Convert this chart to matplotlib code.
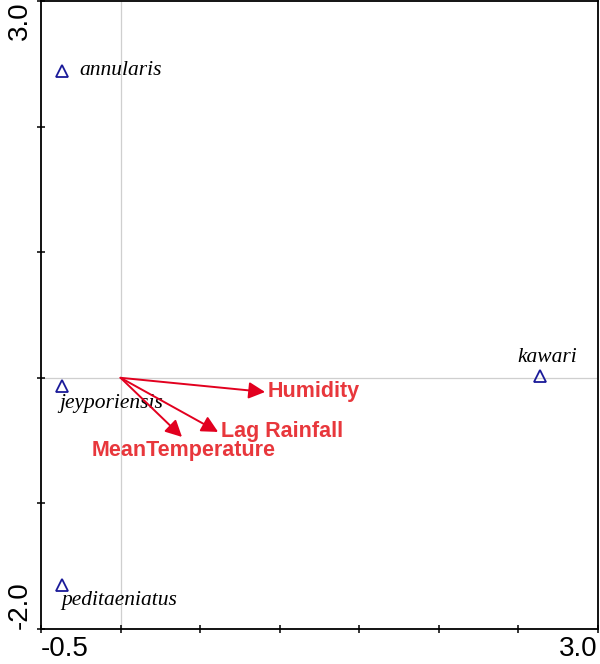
import matplotlib
matplotlib.use("Agg")
import matplotlib.pyplot as plt
import numpy as np

# ---- data ----
species = ["annularis", "jeyporiensis", "peditaeniatus", "kawari"]
species_x = [-0.37, -0.37, -0.37, 2.636]
species_y = [2.444, -0.069, -1.646, 0.014]

env_vars = ["Humidity", "Lag Rainfall", "MeanTemperature"]
env_x = [0.908, 0.613, 0.386]
env_y = [-0.113, -0.431, -0.471]

x_ticks = [-0.5, 0.0, 0.5, 1.0, 1.5, 2.0, 2.5, 3.0]
x_ticklabels = ["-0.5", "", "", "", "", "", "", "3.0"]
y_ticks = [-2.0, -1.0, 0.0, 1.0, 2.0, 3.0]
y_ticklabels = ["-2.0", "", "", "", "", "3.0"]

# ---- styling (label placement offsets, in points) ----
species_offsets = {
    "annularis": ((13, 0), "left", "center"),
    "jeyporiensis": ((-2, -12), "left", "center"),
    "peditaeniatus": ((0, -11.5), "left", "center"),
    "kawari": ((5, 13), "center", "center"),
}
env_offsets = {
    "Humidity": ((2, 0), "left", "center"),
    "Lag Rainfall": ((2, 0), "left", "center"),
    "MeanTemperature": ((1, -9.5), "center", "center"),
}
arrow_color = "#e2001f"
env_text_color = "#e8373c"
species_color = "#1a1a99"

fig = plt.figure(figsize=(6, 6.64), dpi=100)
ax = fig.add_axes([41 / 600, 1 - 629 / 664, 557 / 600, 628 / 664])
ax.set_xlim(-0.5, 3.0)
ax.set_ylim(-2.0, 3.0)

# zero reference lines
ax.axvline(0, color="#cfcfcf", lw=0.9, zorder=0)
ax.axhline(0, color="#cfcfcf", lw=0.9, zorder=0)

# species points
ax.plot(species_x, species_y, linestyle="none", marker="^", markersize=9,
        markerfacecolor="none", markeredgecolor=species_color, markeredgewidth=1.3)
for name, x, y in zip(species, species_x, species_y):
    off, ha, va = species_offsets[name]
    ax.annotate(name, xy=(x, y), xytext=off, textcoords="offset points",
                ha=ha, va=va, fontsize=15.5, style="italic",
                family="Liberation Serif", color="black")

# environmental arrows
for name, x, y in zip(env_vars, env_x, env_y):
    ax.annotate("", xy=(x, y), xytext=(0, 0),
                arrowprops=dict(arrowstyle="-|>,head_length=0.55,head_width=0.28",
                                color=arrow_color, lw=1.4,
                                mutation_scale=18, shrinkA=0, shrinkB=0))
    off, ha, va = env_offsets[name]
    ax.annotate(name, xy=(x, y), xytext=off, textcoords="offset points",
                ha=ha, va=va, fontsize=15.5, fontweight="bold",
                family="Liberation Sans", color=env_text_color)

# axes / ticks
ax.set_xticks(x_ticks)
ax.set_xticklabels(x_ticklabels, family="Liberation Sans", fontsize=20)
ax.set_yticks(y_ticks)
ax.set_yticklabels(y_ticklabels, family="Liberation Sans", fontsize=20, rotation=90)
ax.tick_params(axis="both", direction="inout", length=6, width=1.1, colors="black")
ax.tick_params(axis="x", pad=2)
ax.tick_params(axis="y", pad=3)
xl = ax.get_xticklabels()
xl[0].set_ha("left")
xl[-1].set_ha("right")
yl = ax.get_yticklabels()
yl[0].set_va("bottom")
yl[-1].set_va("top")
for lab in yl:
    lab.set_ha("right")

for s in ax.spines.values():
    s.set_linewidth(1.3)
    s.set_color("black")

fig.savefig("out.png", dpi=100)
